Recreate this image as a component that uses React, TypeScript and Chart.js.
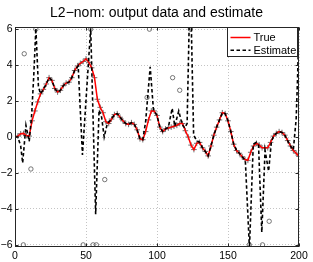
import React, { useEffect, useRef } from "react";
import { Chart, registerables } from "chart.js";

Chart.register(...registerables);

const titleText = "L2−nom: output data and estimate";
const seriesLabels = ["True", "Estimate"];
const xTickValues = [0, 50, 100, 150, 200];
const yTickValues = [-6, -4, -2, 0, 2, 4, 6];

const sampleT = [
  0, 2, 4, 6, 8, 10, 12, 14, 16, 18, 20, 22, 24, 26, 28, 30, 32, 34, 36, 38,
  40, 42, 44, 46, 48, 50, 52, 54, 56, 58, 60, 62, 64, 66, 68, 70, 72, 74, 76, 78,
  80, 82, 84, 86, 88, 90, 92, 94, 96, 98, 100, 102, 104, 106, 108, 110, 112, 114, 116, 118,
  120, 122, 124, 126, 128, 130, 132, 134, 136, 138, 140, 142, 144, 146, 148, 150, 152, 154, 156, 158,
  160, 162, 164, 166, 168, 170, 172, 174, 176, 178, 180, 182, 184, 186, 188, 190, 192, 194, 196, 198, 200,
];

const trueValues = [
  0.0, 0.05, 0.18, 0.2, 0.08, 0.05, 0.9, 1.45, 1.95, 2.4, 2.65, 2.95, 3.3, 3.15, 2.7, 2.5, 2.6, 2.85, 3.0, 3.05,
  3.3, 3.7, 3.95, 4.1, 4.2, 4.35, 4.15, 3.85, 3.3, 2.1, 1.65, 1.35, 0.85, 0.75, 1.0, 1.25, 1.3, 1.1, 0.9, 0.75,
  0.7, 0.8, 0.7, 0.4, -0.1, -0.15, 0.3, 0.95, 1.45, 1.45, 1.2, 0.55, 0.3, 0.45, 0.5, 0.55, 0.6, 0.65, 0.75, 0.75,
  0.35, 0.0, -0.45, -0.7, -0.35, -0.3, -0.6, -0.8, -1.05, -0.5, 0.1, 0.55, 0.95, 1.35, 1.3, 0.9, 0.3, -0.4, -0.75, -0.9,
  -1.1, -1.25, -1.3, -0.85, -0.5, -0.35, -0.45, -0.6, -0.6, -0.6, -0.3, 0.05, 0.2, 0.3, 0.25, 0.1, -0.2, -0.5, -0.75, -0.9, -1.08,
];

const estimateT = [
  0, 2, 4, 5.4, 7.7, 10, 11.7, 13.2, 14.7, 16.5, 18, 20, 22, 24, 26, 28, 30, 32, 34, 36,
  38, 40, 42, 44.5, 47.5, 53.3, 56.8, 59.2, 61, 62.8, 65, 68, 70, 72, 74, 76, 78, 80, 82, 84,
  86, 88, 90, 92, 95.2, 97.5, 100, 102, 104, 106, 108, 110.7, 112.5, 115.3, 117.7, 119.5, 121.2, 123.4, 125.8, 128,
  130, 132, 134, 136, 138, 140, 142, 144, 146, 148, 150, 152, 154, 156, 158, 160, 162.2, 165.1, 167.8, 170,
  171.5, 173.8, 176.1, 178.6, 180.5, 182, 184, 186, 188, 190, 192, 194, 196, 198, 199, 200,
];

const estimateValues = [
  0.0, 0.0, -0.5, -1.45, 0.65, -0.25, 1.2, 3.4, 6.05, 2.8, 2.4, 2.65, 2.95, 3.3, 3.15, 2.7, 2.5, 2.6, 2.85, 3.0,
  3.05, 3.3, 3.7, 3.95, -1.0, 6.05, -4.3, 1.5, 1.1, 0.0, 0.75, 1.0, 1.25, 1.3, 1.1, 0.9, 0.75, 0.7, 0.8, 0.7,
  0.4, -0.1, -0.15, 0.85, 3.9, 1.5, 1.2, 0.55, 0.3, 0.45, 0.55, 1.6, 0.6, 1.45, 0.7, 0.5, 0.75, 9.0, 0.1, -0.2,
  -0.3, -0.6, -0.8, -1.05, -0.5, 0.1, 0.55, 0.95, 1.35, 1.3, 0.9, 0.3, -0.4, -0.75, -0.9, -1.1, -1.3, -6.2, -0.4, -0.3,
  -0.45, -5.3, -0.75, -1.9, -0.3, 0.05, 0.2, 0.3, 0.25, 0.1, -0.2, -0.5, -0.72, 1.0, 3.3, 6.4,
];

const outlierT = [5.9, 6.5, 11.2, 14.7, 48, 53.3, 55, 57.3, 63.2, 93, 94.7, 111, 116, 123.5, 165, 174.3, 179, 200];
const outlierValues = [-6, 4.63, -1.78, 6, -6, 6, -6, -6, -2.37, 2.2, 6, 3.3, 2.6, 6, -6, -6, -4.69, 6];

const FONT = "'Liberation Sans', Arial, Helvetica, sans-serif";

const fmt = (v: number) => (v < 0 ? "\u2212" + Math.abs(v) : String(v));

const framePlugin = {
  id: "matlabFrame",
  afterDatasetsDraw(chart: any) {
    const { ctx, chartArea: a, scales } = chart;
    ctx.save();
    ctx.strokeStyle = "#262626";
    ctx.lineWidth = 1;
    const l = Math.round(a.left) + 0.5;
    const r = Math.round(a.right) - 0.5;
    const t = Math.round(a.top) + 0.5;
    const b = Math.round(a.bottom) - 0.5;
    ctx.strokeRect(l, t, r - l, b - t);
    ctx.beginPath();
    const tl = 3;
    xTickValues.forEach((v) => {
      const x = Math.round(scales.x.getPixelForValue(v)) + 0.5;
      ctx.moveTo(x, b);
      ctx.lineTo(x, b - tl);
      ctx.moveTo(x, t);
      ctx.lineTo(x, t + tl);
    });
    yTickValues.forEach((v) => {
      const y = Math.round(scales.y.getPixelForValue(v)) + 0.5;
      ctx.moveTo(l, y);
      ctx.lineTo(l + tl, y);
      ctx.moveTo(r, y);
      ctx.lineTo(r - tl, y);
    });
    ctx.stroke();
    ctx.restore();
  },
  afterDraw(chart: any) {
    const { ctx, chartArea: a } = chart;
    ctx.save();
    ctx.font = `11px ${FONT}`;
    const textW = Math.max(...seriesLabels.map((s) => ctx.measureText(s).width));
    const lineLen = 20;
    const padL = 3;
    const gap = 3;
    const padR = 2;
    const rowH = 12.7;
    const boxW = padL + lineLen + gap + textW + padR;
    const boxH = 29;
    const right = Math.round(a.right) - 1.5;
    const top = Math.round(a.top) + 0.5;
    const left = Math.round(right - boxW) + 0.5;
    ctx.fillStyle = "#ffffff";
    ctx.fillRect(left, top, right - left, boxH);
    ctx.strokeStyle = "#262626";
    ctx.lineWidth = 1;
    ctx.strokeRect(left, top, right - left, boxH);
    const ds = chart.data.datasets;
    [0, 1].forEach((i) => {
      const d = ds.find((x: any) => x.label === seriesLabels[i]);
      const y = top + 10 + i * rowH;
      ctx.beginPath();
      ctx.strokeStyle = d.borderColor;
      ctx.lineWidth = d.borderWidth;
      ctx.setLineDash(d.borderDash || []);
      ctx.moveTo(left + padL, y);
      ctx.lineTo(left + padL + lineLen, y);
      ctx.stroke();
      ctx.setLineDash([]);
      ctx.fillStyle = "#000";
      ctx.textBaseline = "middle";
      ctx.textAlign = "left";
      ctx.fillText(seriesLabels[i], left + padL + lineLen + gap, y + 0.5);
    });
    ctx.restore();
  },
};

export default function App() {
  const ref = useRef<HTMLCanvasElement | null>(null);

  useEffect(() => {
    if (!ref.current) return;
    const pts = (xs: number[], ys: number[]) => xs.map((x, i) => ({ x, y: ys[i] }));
    const tickFont = { family: FONT, size: 10.5 };
    const chart = new Chart(ref.current, {
      type: "scatter",
      data: {
        datasets: [
          {
            label: seriesLabels[1],
            data: pts(estimateT, estimateValues),
            showLine: true,
            borderColor: "#000000",
            borderWidth: 1.6,
            borderDash: [3.5, 2.5],
            pointRadius: 0,
            tension: 0,
            order: 1,
            clip: 0,
          } as any,
          {
            label: seriesLabels[0],
            data: pts(sampleT, trueValues),
            showLine: true,
            borderColor: "#ff0000",
            borderWidth: 1.5,
            pointRadius: 0,
            tension: 0,
            order: 2,
            clip: 0,
          } as any,
          {
            label: "data",
            data: pts(sampleT, trueValues),
            showLine: false,
            pointStyle: "cross",
            pointRadius: 2.8,
            borderColor: "#707070",
            borderWidth: 1,
            order: 3,
          } as any,
          {
            label: "outliers",
            data: pts(outlierT, outlierValues),
            showLine: false,
            pointStyle: "circle",
            pointRadius: 2.2,
            borderColor: "#555555",
            backgroundColor: "rgba(0,0,0,0)",
            borderWidth: 0.8,
            order: 4,
          } as any,
        ],
      },
      options: {
        animation: false,
        responsive: false,
        maintainAspectRatio: false,
        events: [],
        layout: { padding: 0 },
        plugins: {
          legend: { display: false },
          tooltip: { enabled: false },
          title: {
            display: true,
            text: titleText,
            color: "#000000",
            font: { family: FONT, size: 14, weight: "normal", lineHeight: 1.2 },
            padding: { top: 5, bottom: 5.2 },
          },
        },
        scales: {
          x: {
            type: "linear",
            min: 0,
            max: 200,
            afterFit: (s: any) => {
              s.height = 15;
            },
            afterBuildTicks: (s: any) => {
              s.ticks = xTickValues.map((v) => ({ value: v }));
            },
            ticks: {
              font: tickFont,
              color: "#000000",
              padding: 2.5,
              maxRotation: 0,
              autoSkip: false,
              callback: (v: any) => fmt(Number(v)),
            },
            grid: { color: "#c4c4c4", lineWidth: 1, drawTicks: false },
            border: { display: false, dash: [1, 2] },
          },
          y: {
            type: "linear",
            position: "left",
            min: -6.12,
            max: 6.12,
            afterFit: (s: any) => {
              s.width = 15;
            },
            afterBuildTicks: (s: any) => {
              s.ticks = yTickValues.map((v) => ({ value: v }));
            },
            ticks: {
              font: tickFont,
              color: "#000000",
              padding: 2.5,
              autoSkip: false,
              callback: (v: any) => fmt(Number(v)),
            },
            grid: { color: "#c4c4c4", lineWidth: 1, drawTicks: false },
            border: { display: false, dash: [1, 2] },
          },
          y2: {
            type: "linear",
            position: "right",
            display: true,
            afterFit: (s: any) => {
              s.width = 14;
            },
            ticks: { display: false },
            grid: { display: false, drawTicks: false },
            border: { display: false },
          },
        },
      } as any,
      plugins: [framePlugin],
    });
    return () => chart.destroy();
  }, []);

  return (
    <div style={{ position: "absolute", left: 0, top: 0, width: 313, height: 262 }}>
      <canvas ref={ref} width={313} height={262} style={{ display: "block" }} />
    </div>
  );
}
